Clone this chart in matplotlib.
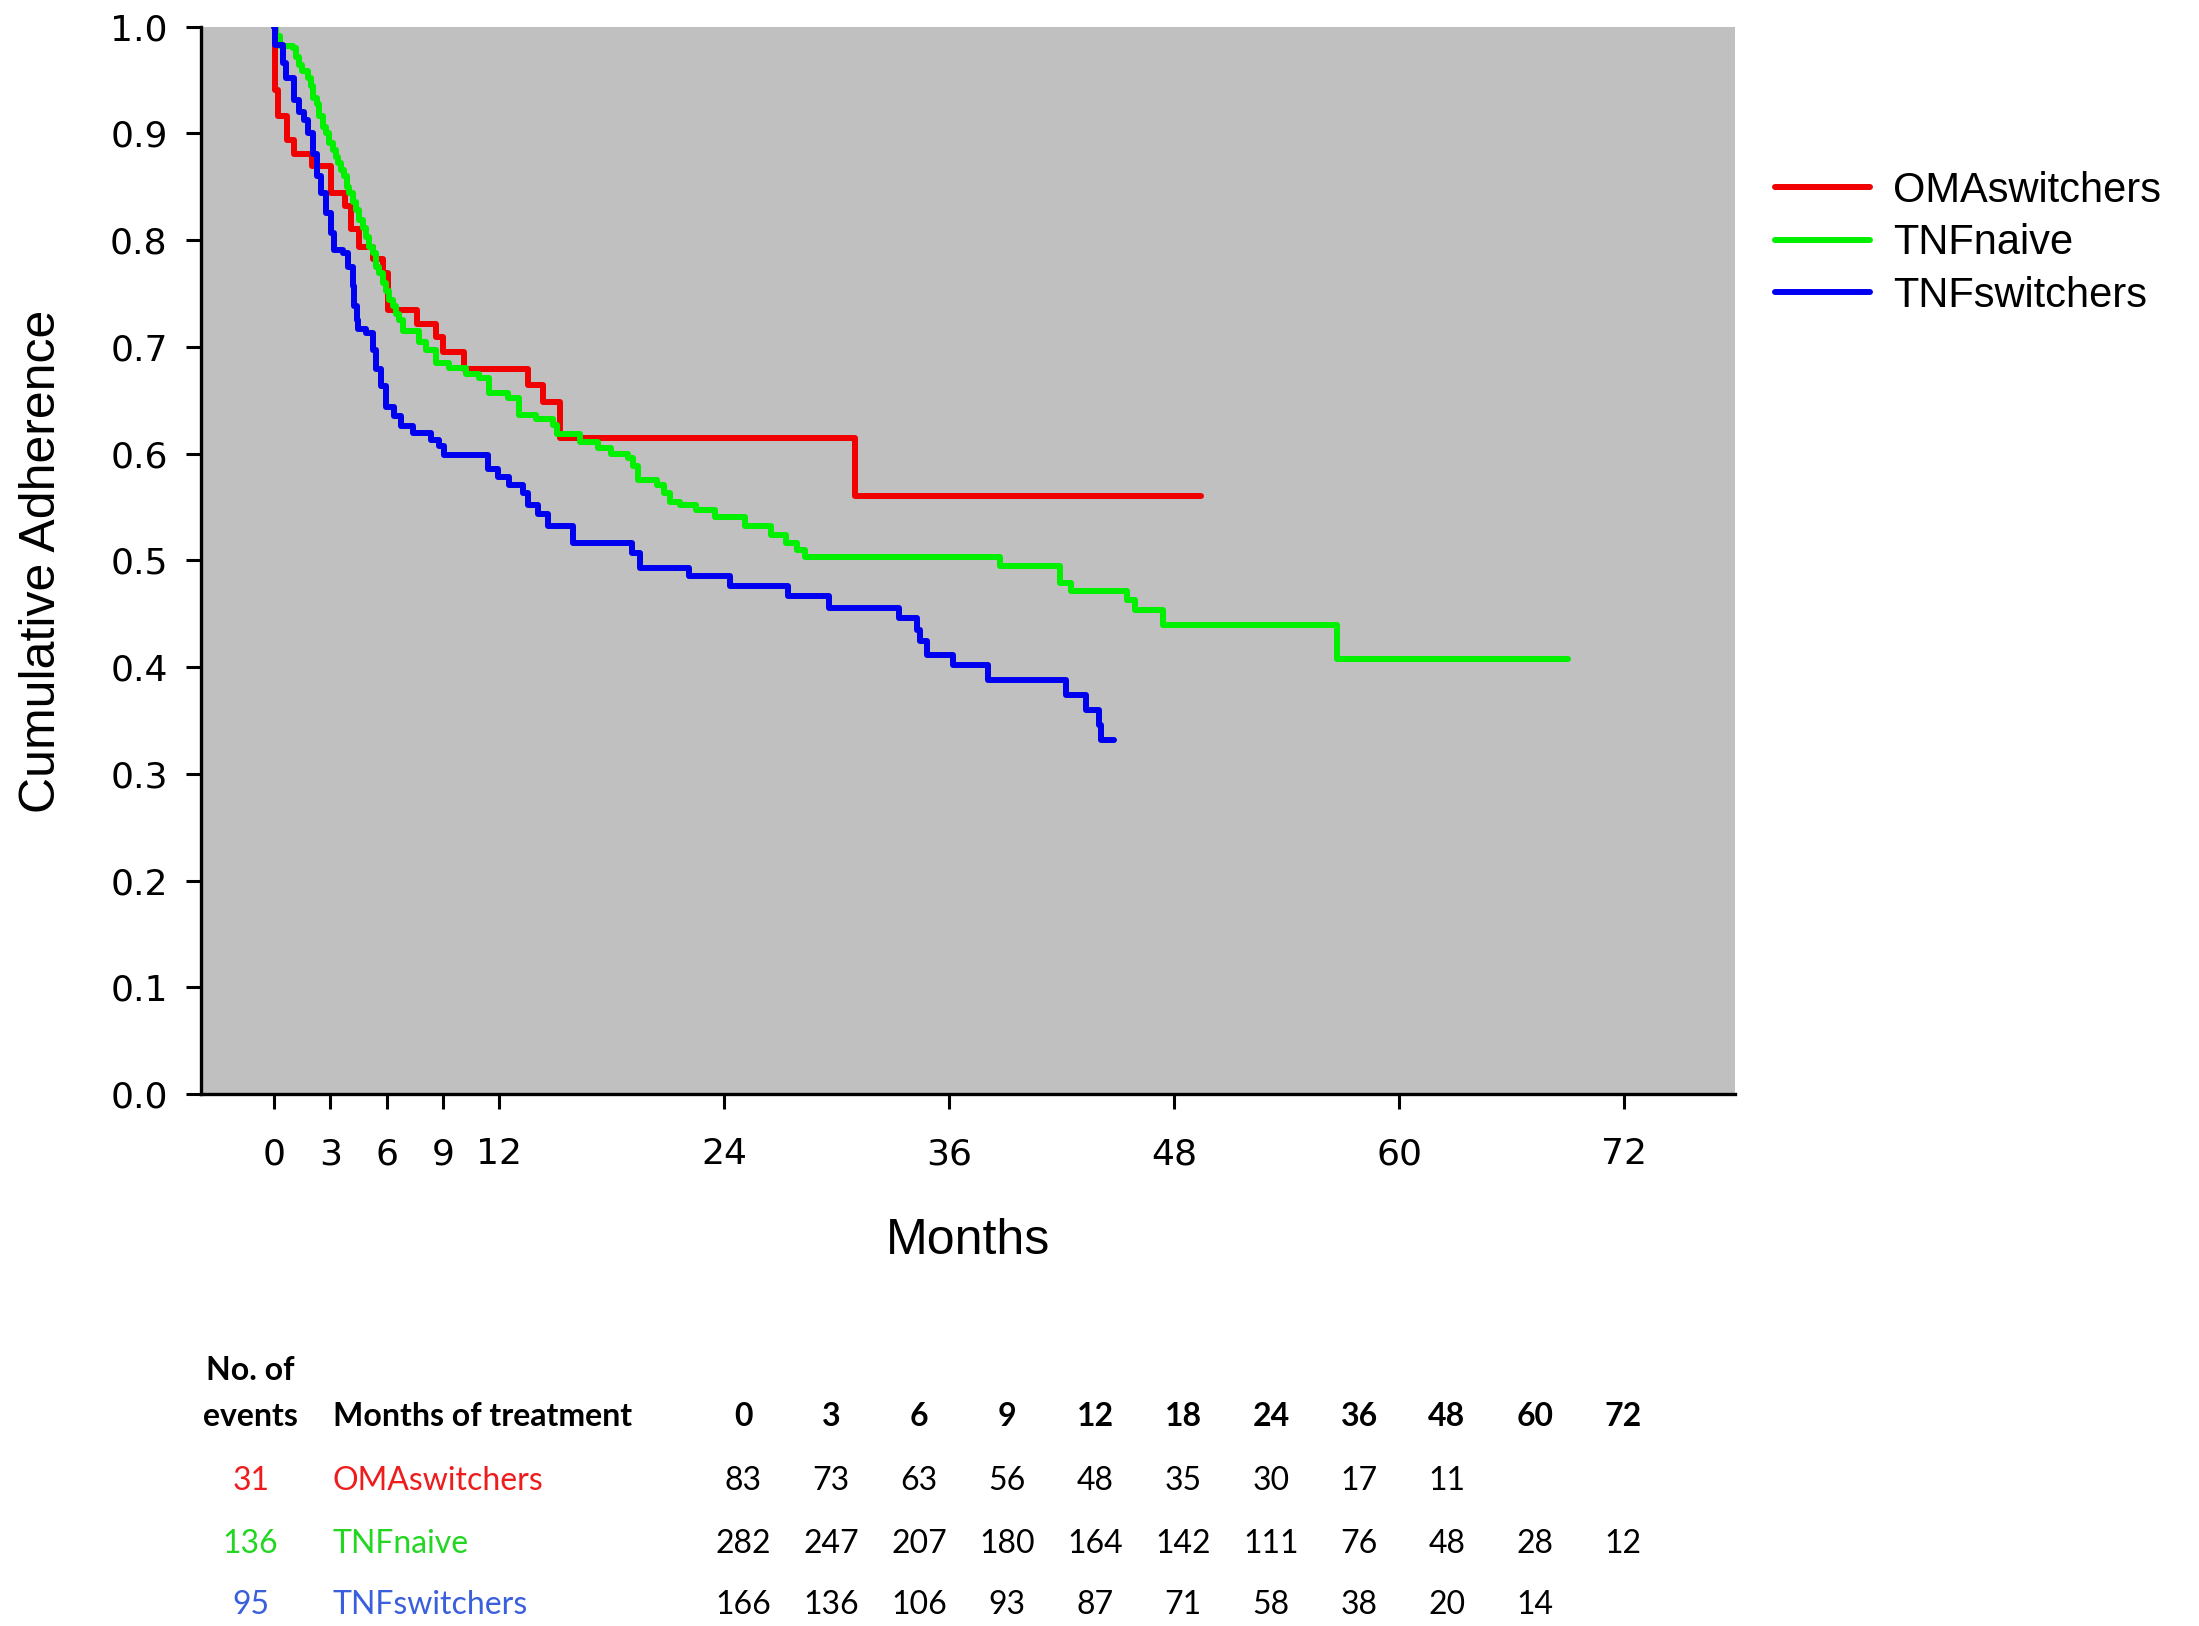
import numpy as np
import matplotlib.pyplot as plt
from matplotlib.lines import Line2D

# Kaplan-Meier curves (time of drop in months, value after the drop)
oma_t = [0, 0.02, 0.2, 0.7, 1.07, 2.0, 3.03, 3.8, 4.1, 4.54, 5.25, 5.8, 6.05, 7.6,
         8.65, 9.0, 10.1, 13.55, 14.35, 15.25, 30.95, 49.4]
oma_s = [1.0, 0.941, 0.916, 0.894, 0.881, 0.869, 0.844, 0.832, 0.81, 0.794, 0.782, 0.769,
         0.735, 0.721, 0.709, 0.695, 0.679, 0.664, 0.648, 0.615, 0.560, 0.560]

naive_t = [0, 0.1, 0.3, 0.98, 1.16, 1.34, 1.51, 1.78, 1.96, 2.05, 2.31, 2.4, 2.58, 2.76,
           2.94, 3.12, 3.29, 3.38, 3.56, 3.74, 3.86, 4.01, 4.18, 4.36, 4.54, 4.72, 4.9,
           5.07, 5.25, 5.43, 5.61, 5.79, 5.97, 6.14, 6.32, 6.5, 6.68, 6.86, 7.75, 8.1,
           8.64, 9.35, 10.24, 10.95, 11.48, 12.46, 13.08, 13.97, 14.86, 15.1, 16.3, 17.27,
           17.99, 18.88, 19.15, 19.4, 20.4, 20.8, 21.1, 21.63, 22.5, 23.5, 25.1, 26.5,
           27.3, 27.9, 28.3, 38.7, 41.9, 42.5, 45.5, 45.9, 47.4, 56.7, 69.0]
naive_s = [1.0, 0.991, 0.982, 0.980, 0.972, 0.964, 0.958, 0.952, 0.944, 0.933, 0.928,
           0.916, 0.906, 0.900, 0.891, 0.884, 0.878, 0.872, 0.866, 0.860, 0.850, 0.844,
           0.836, 0.828, 0.819, 0.811, 0.803, 0.794, 0.788, 0.775, 0.769, 0.760, 0.752,
           0.744, 0.738, 0.731, 0.725, 0.715, 0.705, 0.697, 0.685, 0.680, 0.675, 0.671,
           0.657, 0.652, 0.636, 0.632, 0.627, 0.618, 0.611, 0.605, 0.600, 0.596, 0.588,
           0.575, 0.571, 0.563, 0.555, 0.552, 0.547, 0.541, 0.532, 0.524, 0.516, 0.510,
           0.503, 0.495, 0.479, 0.471, 0.463, 0.453, 0.439, 0.408, 0.408]

switch_t = [0, 0.02, 0.45, 0.62, 1.07, 1.34, 1.6, 1.78, 2.05, 2.3, 2.5, 2.76, 3.03, 3.2,
            3.65, 3.92, 4.18, 4.27, 4.4, 4.45, 4.9, 5.25, 5.43, 5.7, 5.97, 6.41, 6.77,
            7.39, 8.37, 8.81, 9.08, 11.4, 11.93, 12.55, 13.26, 13.53, 14.06, 14.6, 15.95,
            19.1, 19.5, 22.1, 24.3, 27.4, 29.6, 33.3, 34.3, 34.45, 34.8, 36.2, 38.05,
            42.2, 43.3, 44.0, 44.1, 44.8]
switch_s = [1.0, 0.983, 0.966, 0.952, 0.931, 0.920, 0.913, 0.900, 0.881, 0.860, 0.844,
            0.825, 0.807, 0.791, 0.788, 0.775, 0.757, 0.738, 0.725, 0.717, 0.713, 0.697,
            0.679, 0.663, 0.644, 0.635, 0.626, 0.619, 0.613, 0.607, 0.599, 0.586, 0.578,
            0.571, 0.563, 0.552, 0.543, 0.532, 0.516, 0.507, 0.493, 0.485, 0.476, 0.467,
            0.455, 0.446, 0.435, 0.424, 0.411, 0.402, 0.388, 0.374, 0.360, 0.346, 0.332,
            0.332]

groups = ['OMAswitchers', 'TNFnaive', 'TNFswitchers']
line_colors = ['#f00000', '#00f000', '#0000f0']
text_colors = ['#ee1c1c', '#22d622', '#3a5fdc']

# numbers at risk table
tab_months = [0, 3, 6, 9, 12, 18, 24, 36, 48, 60, 72]
events = [31, 136, 95]
oma_risk = [83, 73, 63, 56, 48, 35, 30, 17, 11]
naive_risk = [282, 247, 207, 180, 164, 142, 111, 76, 48, 28, 12]
switch_risk = [166, 136, 106, 93, 87, 71, 58, 38, 20, 14]

xticks = [0, 3, 6, 9, 12, 24, 36, 48, 60, 72]
yticks = np.arange(0, 1.01, 0.1)

fig = plt.figure(figsize=(21.99, 16.26), dpi=100)
ax = fig.add_axes([0.0914, 0.3272, 0.6976, 0.6564])
ax.set_facecolor('#c0c0c0')

curves = [(oma_t, oma_s), (naive_t, naive_s), (switch_t, switch_s)]
for (t, s), c, name in zip(curves, line_colors, groups):
    ax.step(t, s, where='post', color=c, lw=4.3, label=name, solid_capstyle='round',
            solid_joinstyle='round')

ax.set_xlim(-3.9, 77.9)
ax.set_ylim(0, 1.0)
ax.set_xticks(xticks)
ax.set_yticks(yticks)
ax.set_yticklabels(['%.1f' % v for v in yticks])
for side in ['top', 'right']:
    ax.spines[side].set_visible(False)
for side in ['left', 'bottom']:
    ax.spines[side].set_linewidth(2.4)
ax.tick_params(axis='both', direction='out', length=11, width=2.2, labelsize=26)
ax.tick_params(axis='y', pad=13)
ax.tick_params(axis='x', pad=20)

fig.text(0.019, 0.655, 'Cumulative Adherence', rotation=90, fontsize=36,
         family='Liberation Sans', ha='center', va='center')
fig.text(0.44, 0.237, 'Months', fontsize=36, family='Liberation Sans',
         ha='center', va='center')

handles = [Line2D([], [], color=c, lw=4.3, solid_capstyle='round') for c in line_colors]
fig.legend(handles, groups, loc='upper left', bbox_to_anchor=(0.807, 0.895),
           frameon=False, handlelength=2.3, handletextpad=0.55,
           labelspacing=0.3, borderpad=0, borderaxespad=0,
           prop={'family': 'Liberation Sans', 'size': 30})

# table below the plot
tf = 'Lato'
col_x = [0.338 + 0.04 * i for i in range(len(tab_months))]
fig.text(0.114, 0.157, 'No. of', fontsize=23, weight='bold', family=tf, ha='center', va='center')
fig.text(0.114, 0.129, 'events', fontsize=23, weight='bold', family=tf, ha='center', va='center')
fig.text(0.1514, 0.129, 'Months of treatment', fontsize=23, weight='bold', family=tf,
         ha='left', va='center')
for x, m in zip(col_x, tab_months):
    fig.text(x, 0.129, str(m), fontsize=23, weight='bold', family=tf, ha='center', va='center')

row_y = [0.089, 0.0504, 0.0129]
risks = [oma_risk, naive_risk, switch_risk]
for y, name, ev, risk, c in zip(row_y, groups, events, risks, text_colors):
    fig.text(0.114, y, str(ev), fontsize=23, family=tf, color=c, ha='center', va='center')
    fig.text(0.1514, y, name, fontsize=23, family=tf, color=c, ha='left', va='center')
    for x, r in zip(col_x, risk):
        fig.text(x, y, str(r), fontsize=23, family=tf, ha='center', va='center')

fig.savefig('out.png', dpi=100)
